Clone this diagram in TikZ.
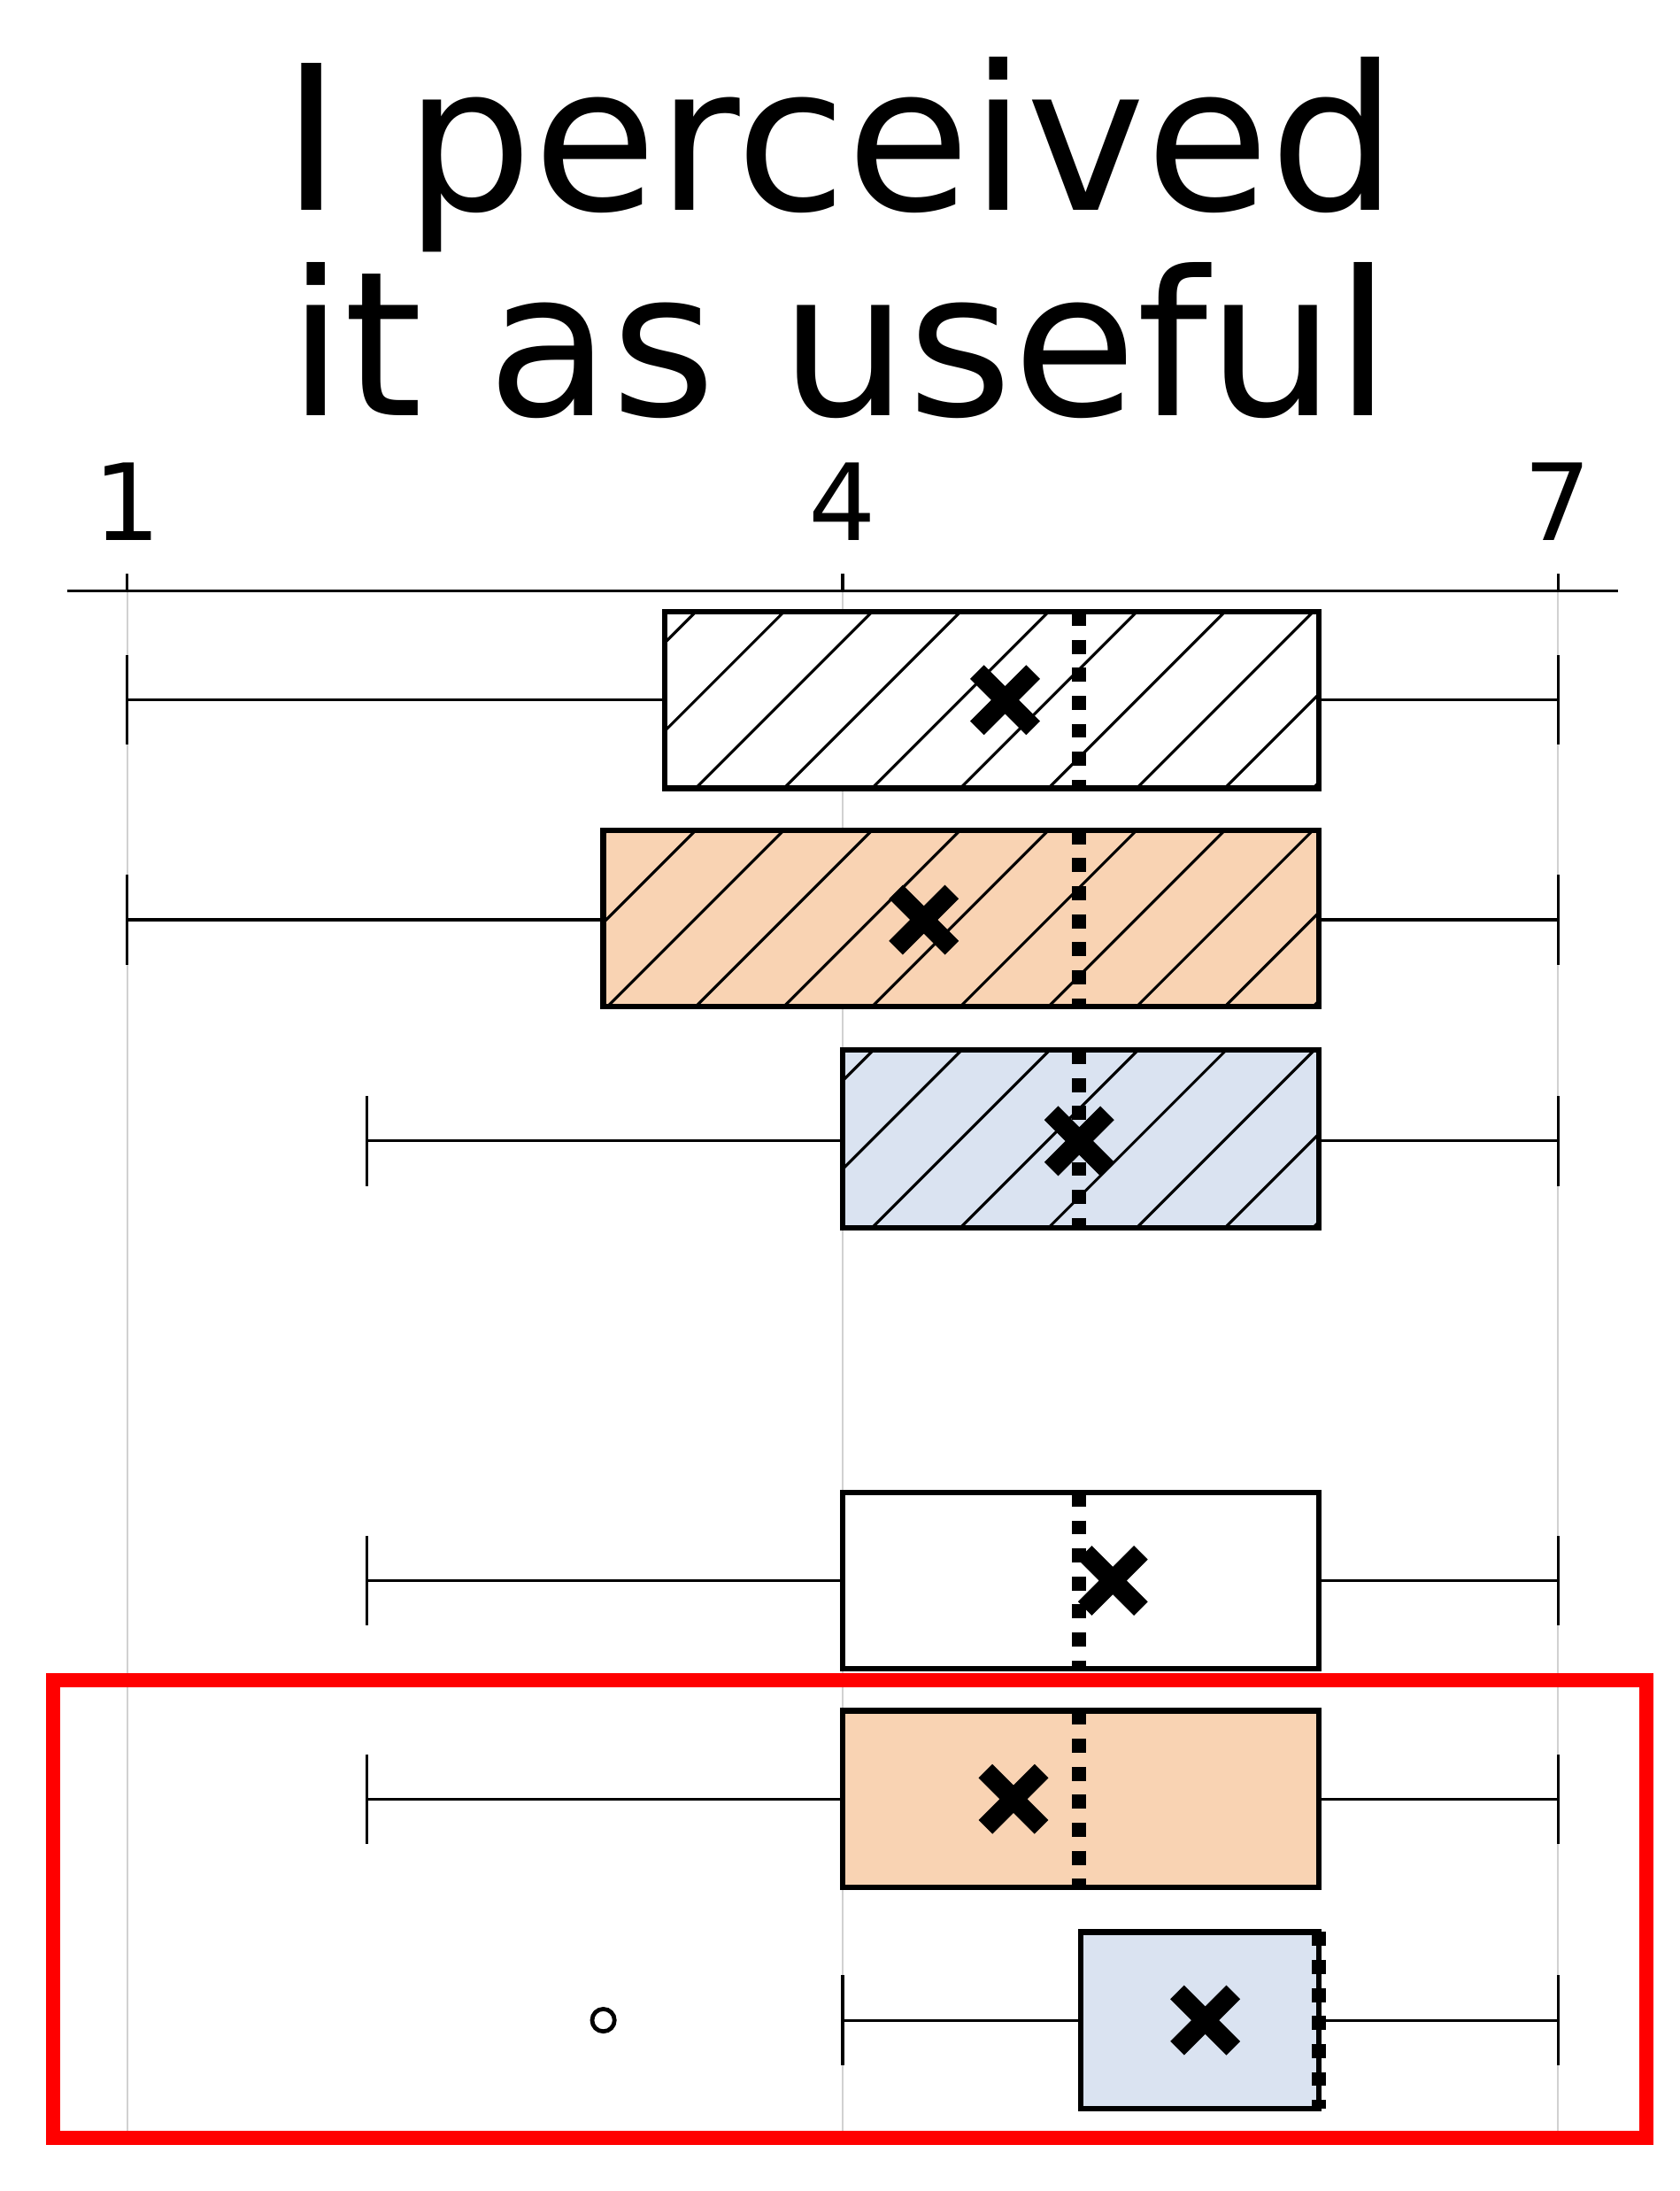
\documentclass[tikz,border=0pt]{standalone}
\usepackage{fontspec}
\setmainfont{DejaVu Sans}
\definecolor{org}{HTML}{F9D3B3}
\definecolor{blu}{HTML}{DAE3F1}
\tikzset{bx/.style={line width=2pt,draw=black},wh/.style={line width=1pt},
grid/.style={draw=black!18,line width=0.6pt},
med/.style={line width=5pt,dash pattern=on 5pt off 5pt},
mn/.style={line width=7pt},
redbox/.style={draw=red,line width=5pt}}
\newcommand{\meanx}[2]{\draw[mn] (#1-20,#2-20)--(#1+20,#2+20) (#1-20,#2+20)--(#1+20,#2-20);}
\newcommand{\hatchbox}[5]{% x0 x1 y0 y1 fill
\fill[#5] (#1,#3) rectangle (#2,#4);
\begin{scope}\clip (#1,#3) rectangle (#2,#4);
\foreach \k in {-700,-637,...,1200}{\draw[line width=1pt] (\k,#4)--++(126,-126);}
\end{scope}
\draw[bx] (#1,#3) rectangle (#2,#4);}
\newcommand{\plainbox}[5]{\draw[bx,fill=#5] (#1,#3) rectangle (#2,#4);}
\newcommand{\whisk}[3]{% lo hi y
\draw[wh] (#1,#3)--(#2,#3) (#1,#3-32)--(#1,#3+32) (#2,#3-32)--(#2,#3+32);}
\begin{document}
\begin{tikzpicture}[x=0.5pt,y=-0.5pt]
\useasboundingbox (0,0) rectangle (1200,1565);
\foreach \x in {91,602,1113}{\draw[grid] (\x,422)--(\x,1522);}
\draw[line width=1pt] (48,422)--(1156,422);
\foreach \x/\l in {91/1,602/4,1113/7}{\draw[line width=1pt] (\x,422)--(\x,410); \node[font=\fontsize{38}{40}\selectfont,anchor=base] (t\l) at (\x,386) {\l};}
\node[font=\fontsize{72}{75}\selectfont,align=center,anchor=base] (title) at (600,150) {I perceived};
\node[font=\fontsize{72}{75}\selectfont,align=center,anchor=base] (title2) at (600,297) {it as useful};
% box 1
\whisk{91}{1113}{500}
\hatchbox{475}{942}{437}{563}{white}
\draw[med] (771,437)--(771,563); \meanx{718}{500}
% box 2
\whisk{91}{1113}{657}
\hatchbox{431}{942}{593}{719}{org}
\draw[med] (771,593)--(771,719); \meanx{660}{657}
% box 3
\whisk{262}{1113}{815}
\hatchbox{602}{942}{750}{877}{blu}
\draw[med] (771,750)--(771,877); \meanx{771}{815}
% box 4
\whisk{262}{1113}{1129}
\plainbox{602}{942}{1066}{1192}{white}
\draw[med] (771,1066)--(771,1192); \meanx{795}{1129}
% box 5
\whisk{262}{1113}{1285}
\plainbox{602}{942}{1222}{1348}{org}
\draw[med] (771,1222)--(771,1348); \meanx{724}{1285}
% box 6
\whisk{602}{1113}{1443}
\plainbox{772}{942}{1380}{1506}{blu}
\draw[med] (942,1380)--(942,1506); \meanx{861}{1443}
\draw[line width=1.5pt] (431,1443) circle (8);
\draw[redbox] (38,1200) rectangle (1176,1527);
\end{tikzpicture}
\end{document}
